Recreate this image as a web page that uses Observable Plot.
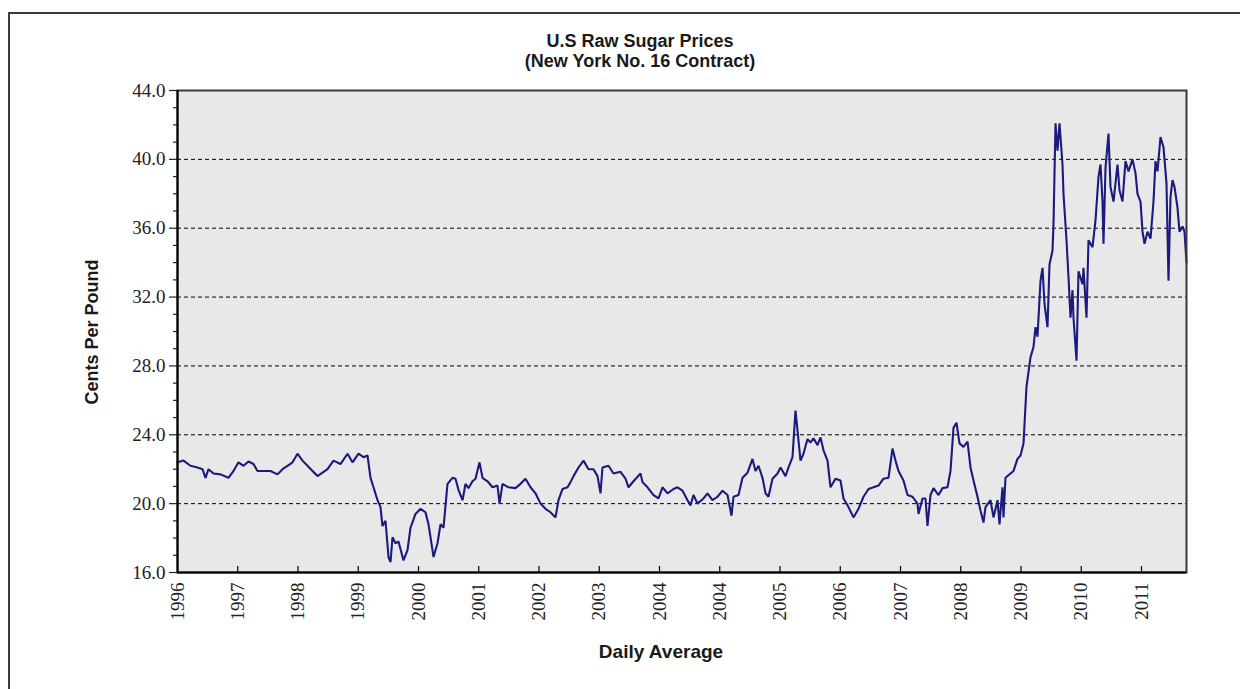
<!DOCTYPE html>
<html><head><meta charset="utf-8">
<script src="https://cdn.jsdelivr.net/npm/d3@7"></script>
<script src="https://cdn.jsdelivr.net/npm/@observablehq/plot@0.6"></script>
<style>
html,body{margin:0;padding:0;background:#fff;overflow:hidden;width:1240px;height:689px}
#wrap{position:relative;width:1240px;height:689px;overflow:hidden}
#border{position:absolute;left:8px;top:12px;width:1300px;height:800px;border:2px solid #3c3c3c;box-sizing:border-box}
#chart{position:absolute;left:0;top:0}
.t{position:absolute;font-family:"Liberation Sans",Arial,sans-serif;font-weight:bold;color:#1a1a1a;white-space:nowrap}
#title{left:390px;width:500px;top:31px;text-align:center;font-size:18px;line-height:20px}
#ylab{left:92px;top:332px;font-size:18px;transform:translate(-50%,-50%) rotate(-90deg)}
#xlab{left:661px;top:652px;font-size:19px;transform:translate(-50%,-50%)}
</style>
</head><body>
<div id="wrap">
  <div id="border"></div>
  <div id="chart"></div>
  <div class="t" id="title">U.S Raw Sugar Prices<br>(New York No. 16 Contract)</div>
  <div class="t" id="ylab">Cents Per Pound</div>
  <div class="t" id="xlab">Daily Average</div>
</div>
<script>
// observation index (≈ trading-day sequence) and price in cents per pound
const obs = [0,24,52,80,100,112,124,144,172,204,224,244,264,284,304,320,344,372,400,420,440,460,480,500,520,540,560,580,600,624,652,680,700,724,744,760,772,784,800,812,820,832,844,852,860,872,884,904,920,932,952,972,992,1004,1020,1024,1040,1052,1064,1080,1100,1112,1124,1140,1152,1164,1180,1192,1208,1220,1240,1260,1280,1288,1300,1324,1352,1372,1392,1412,1432,1452,1472,1492,1512,1524,1540,1560,1572,1584,1604,1624,1644,1664,1680,1692,1700,1724,1744,1772,1792,1804,1824,1852,1860,1880,1904,1924,1940,1960,1984,2000,2020,2040,2052,2064,2080,2104,2120,2140,2160,2180,2200,2216,2224,2244,2260,2280,2300,2312,2324,2340,2352,2364,2380,2400,2412,2432,2444,2460,2472,2480,2492,2504,2520,2532,2544,2560,2572,2584,2600,2612,2632,2652,2664,2684,2704,2724,2744,2764,2784,2804,2824,2844,2860,2872,2884,2904,2920,2940,2960,2964,2980,2992,3000,3012,3024,3044,3060,3080,3092,3104,3116,3128,3144,3160,3172,3184,3200,3212,3224,3232,3252,3264,3280,3288,3300,3304,3312,3332,3344,3360,3372,3384,3396,3412,3424,3432,3440,3452,3460,3468,3480,3488,3500,3504,3512,3520,3528,3540,3544,3556,3564,3572,3580,3584,3596,3604,3620,3624,3636,3644,3660,3672,3684,3692,3700,3704,3712,3724,3732,3744,3760,3768,3780,3792,3804,3820,3832,3840,3852,3860,3868,3880,3892,3904,3912,3920,3932,3944,3956,3964,3972,3980,3988,4000,4008,4020,4028,4036];
const price = [22.4,22.5,22.2,22.1,22.0,21.5,22.0,21.75,21.7,21.5,21.9,22.4,22.2,22.45,22.3,21.9,21.9,21.9,21.7,22.0,22.2,22.4,22.9,22.5,22.2,21.9,21.6,21.8,22.0,22.5,22.3,22.9,22.4,22.9,22.7,22.8,21.5,20.95,20.2,19.8,18.7,19.0,16.9,16.6,18.05,17.7,17.8,16.7,17.3,18.6,19.4,19.7,19.5,18.8,17.3,16.9,17.7,18.8,18.6,21.15,21.5,21.45,20.8,20.2,21.15,20.9,21.3,21.45,22.4,21.5,21.3,20.95,21.05,20.0,21.15,20.95,20.9,21.15,21.45,20.95,20.6,20.0,19.7,19.5,19.2,20.2,20.85,20.95,21.25,21.6,22.1,22.5,22.0,22.0,21.6,20.6,22.1,22.2,21.75,21.85,21.45,20.95,21.3,21.75,21.25,20.95,20.5,20.3,20.95,20.6,20.85,20.95,20.75,20.2,19.9,20.5,20.0,20.3,20.6,20.2,20.4,20.75,20.5,19.3,20.4,20.5,21.5,21.8,22.6,21.9,22.2,21.5,20.6,20.4,21.45,21.75,22.1,21.6,22.1,22.7,25.4,24.25,22.5,22.9,23.75,23.55,23.8,23.4,23.85,23.1,22.5,20.95,21.45,21.35,20.3,19.8,19.2,19.7,20.4,20.85,20.95,21.05,21.45,21.5,23.2,22.5,21.9,21.35,20.5,20.4,20.0,19.4,20.3,20.3,18.7,20.5,20.9,20.5,20.9,20.95,21.9,24.4,24.7,23.5,23.3,23.6,22.1,21.35,20.4,19.6,18.9,19.8,20.2,19.2,20.2,18.8,20.95,19.2,21.5,21.75,21.9,22.6,22.8,23.5,26.8,28.5,29.1,30.25,29.7,32.95,33.7,31.6,30.25,33.9,34.7,36.25,42.1,40.5,42.1,39.7,38.0,35.3,33.15,30.8,32.4,30.8,28.3,33.5,32.75,33.7,30.8,35.3,34.9,36.45,39.0,39.7,37.55,35.1,39.5,41.5,38.4,37.55,39.7,38.2,37.55,39.9,39.3,40.0,39.2,38.0,37.55,35.8,35.1,35.8,35.4,37.55,39.9,39.3,41.3,40.7,38.6,32.95,37.8,38.8,38.4,37.2,35.8,36.1,35.8,34.0];

// x tick labels as printed on the original axis (one tick every 241 observations)
const yearLabels = ["1996","1997","1998","1999","2000","2001","2002","2003","2004","2004","2005","2006","2007","2008","2009","2010","2011"];
const obsPerTick = 241;
const obsMax = 4036;
const yMajor = [16,20,24,28,32,36,40,44];
const yGrid = [20,24,28,32,36,40];
const yMinor = d3.range(17, 44, 1).filter(v => v % 4 !== 0);

const data = obs.map((o, i) => ({obs: o, price: price[i]}));
const tickObs = yearLabels.map((_, i) => i * obsPerTick);

const chart = Plot.plot({
  width: 1240,
  height: 689,
  marginLeft: 177,
  marginRight: 54,
  marginTop: 90,
  marginBottom: 117,
  style: {background: "transparent", fontFamily: "'Liberation Serif', 'Times New Roman', serif", fontSize: "19px", color: "#222"},
  x: {domain: [0, obsMax]},
  y: {domain: [16, 44]},
  marks: [
    Plot.frame({fill: "#e8e8e8", stroke: "none"}),
    Plot.ruleY(yGrid, {stroke: "#000", strokeWidth: 1, strokeDasharray: "4,3"}),
    Plot.line(data, {x: "obs", y: "price", stroke: "#1b1b7e", strokeWidth: 2.1, strokeLinejoin: "miter"}),
    Plot.frame({stroke: "#3a3a3a", strokeWidth: 2}),
    Plot.ruleX(tickObs.slice(1), {y1: 16, y2: 16.35, stroke: "#000", strokeWidth: 1.2}),
    Plot.axisY(yMajor, {tickSize: 8, tickPadding: 4, tickFormat: d => d.toFixed(1), label: null, strokeWidth: 1.2}),
    Plot.axisY(yMinor, {tickSize: 4, tickFormat: () => "", label: null, strokeWidth: 1.2}),
    Plot.axisX(tickObs, {tickSize: 0, tickPadding: 10, tickRotate: -90, tickFormat: (d, i) => yearLabels[i], label: null}),
    Plot.ruleX([0], {stroke: "#000", strokeWidth: 2}),
    Plot.ruleY([16], {stroke: "#000", strokeWidth: 2})
  ]
});
document.getElementById("chart").appendChild(chart);
</script>
</body></html>
